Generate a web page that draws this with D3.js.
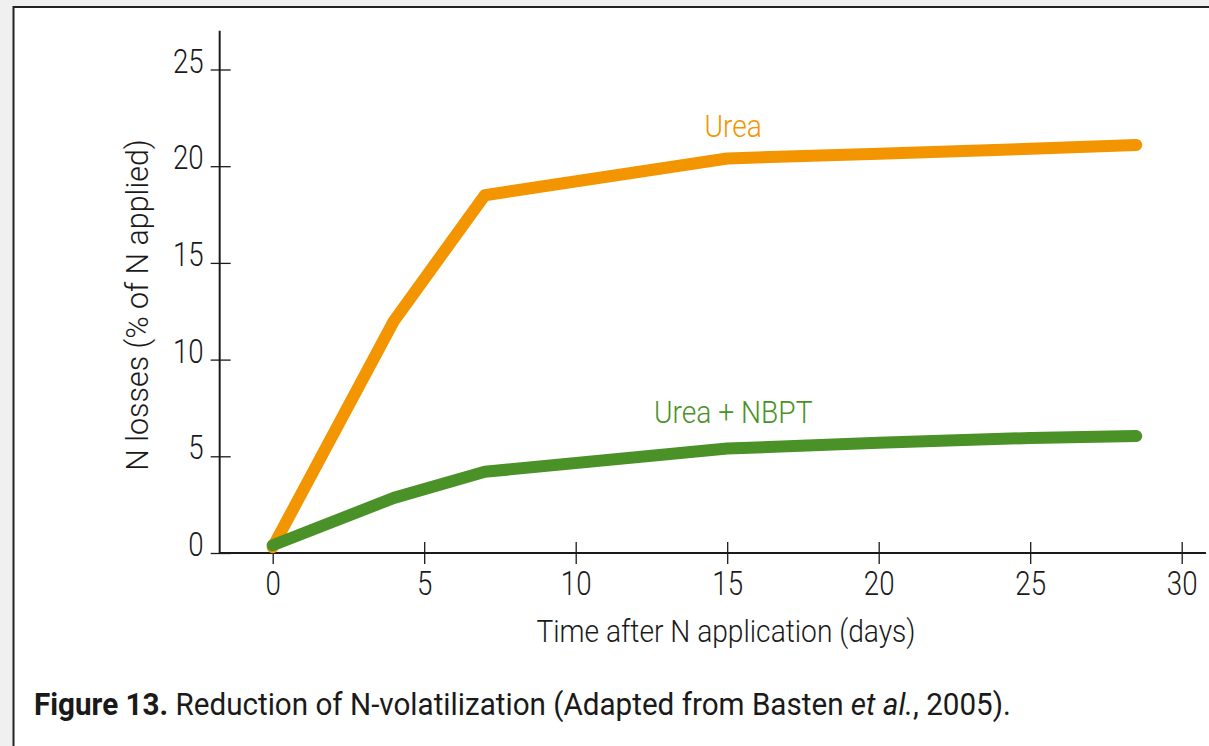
<!DOCTYPE html>
<html>
<head>
<meta charset="utf-8">
<script src="https://cdn.jsdelivr.net/npm/d3@7"></script>
<style>
  html, body { margin: 0; padding: 0; background: #f0f0f0; }
  svg { display: block; }
  text { font-family: Roboto, "Liberation Sans", sans-serif; font-weight: 300; fill: #1a1a1a; }
</style>
</head>
<body>
<svg id="chart"></svg>
<script>
// Data
const days = [0, 4, 7, 15, 20, 25, 28.5];
const urea = [0.3, 12.0, 18.5, 20.4, 20.65, 20.9, 21.1];
const ureaNbpt = [0.4, 2.85, 4.2, 5.4, 5.7, 5.95, 6.05];
const xTicks = [0, 5, 10, 15, 20, 25, 30];
const yTicks = [0, 5, 10, 15, 20, 25];

const width = 1209;
const height = 746;
const fontSize = 32;
// the original type is a condensed face, squeeze the text horizontally
const squeeze = 0.88;
const tickSqueeze = 0.84;

const svg = d3.select("#chart")
  .attr("width", width)
  .attr("height", height);

// white panel with the frame on top / left
svg.append("rect")
  .attr("x", 13).attr("y", 6)
  .attr("width", width - 13).attr("height", height - 6)
  .attr("fill", "#fff");
svg.append("path")
  .attr("d", `M13.5,${height} V7 H${width}`)
  .attr("fill", "none")
  .attr("stroke", "#222")
  .attr("stroke-width", 2);

const x = d3.scaleLinear().domain([0, 30]).range([272.7, 1181.7]);
const y = d3.scaleLinear().domain([0, 25]).range([553, 69.5]);

// axis lines run a bit past the tick range
const xLine = [-1.75, 30.8];
const yLine = [0, 27];

const axisColor = "#1a1a1a";

// y axis
const gy = svg.append("g")
  .attr("transform", `translate(${x(xLine[0])},0)`)
  .call(d3.axisLeft(y).tickValues(yTicks).tickSize(0).tickPadding(16 / tickSqueeze));
gy.select(".domain").remove();
gy.selectAll(".tick line")
  .attr("x1", -9).attr("x2", 11)
  .attr("stroke", axisColor).attr("stroke-width", 1.3);
gy.selectAll(".tick text")
  .attr("font-size", 33)
  .attr("dy", "0.08em")
  .attr("font-family", null)
  .attr("transform", `scale(${tickSqueeze},1)`)
  .style("fill", "#1a1a1a");
gy.append("line")
  .attr("y1", y(yLine[0])).attr("y2", y(yLine[1]))
  .attr("stroke", axisColor).attr("stroke-width", 2);

// x axis
const gx = svg.append("g")
  .attr("transform", `translate(0,${y(0)})`)
  .call(d3.axisBottom(x).tickValues(xTicks).tickSize(0).tickPadding(19));
gx.select(".domain").remove();
gx.selectAll(".tick line")
  .attr("y1", -11).attr("y2", 11)
  .attr("stroke", axisColor).attr("stroke-width", 1.3);
gx.selectAll(".tick text")
  .attr("font-size", 33)
  .attr("font-family", null)
  .attr("transform", `scale(${tickSqueeze},1)`)
  .style("fill", "#1a1a1a");
gx.append("line")
  .attr("x1", x(xLine[0])).attr("x2", x(xLine[1]))
  .attr("stroke", axisColor).attr("stroke-width", 2);

// text placed at (px, py), squeezed around its anchor
function label(px, py, str, rotate = 0, k = squeeze) {
  return svg.append("text")
    .attr("transform", `translate(${px},${py}) rotate(${rotate}) scale(${k},1)`)
    .attr("font-size", fontSize)
    .text(str);
}

// axis titles
label(148, 305, "N losses (% of N applied)", -90, 0.95).attr("text-anchor", "middle");
label(726, 642, "Time after N application (days)").attr("text-anchor", "middle");

// series
const line = d3.line()
  .x(d => x(d[0]))
  .y(d => y(d[1]));

const series = [
  { name: "Urea", values: urea, color: "#f39500", label: [15.2, 21.5] },
  { name: "Urea + NBPT", values: ureaNbpt, color: "#4a9128", label: [15.2, 6.7] }
];

series.forEach(s => {
  svg.append("path")
    .datum(days.map((d, i) => [d, s.values[i]]))
    .attr("d", line)
    .attr("fill", "none")
    .attr("stroke", s.color)
    .attr("stroke-width", 12)
    .attr("stroke-linecap", "round")
    .attr("stroke-linejoin", "round");

  label(x(s.label[0]), y(s.label[1]), s.name)
    .attr("text-anchor", "middle")
    .style("fill", s.color);
});

// caption
const cap = label(34, 715, "", 0, 0.926).style("font-weight", 400);
cap.append("tspan").style("font-weight", 700).text("Figure 13.");
cap.append("tspan").text(" Reduction of N-volatilization (Adapted from Basten ");
cap.append("tspan").attr("font-style", "italic").text("et al.");
cap.append("tspan").text(", 2005).");
</script>
</body>
</html>
